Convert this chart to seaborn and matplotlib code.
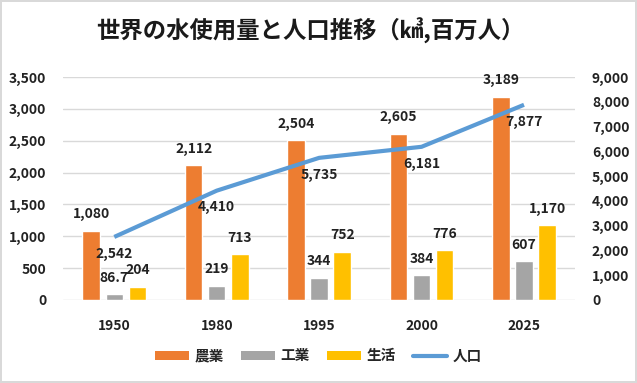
import numpy as np
import pandas as pd
import matplotlib
matplotlib.use("Agg")
import matplotlib.pyplot as plt
import seaborn as sns
from matplotlib.patches import Patch
from matplotlib.lines import Line2D

years = ["1950", "1980", "1995", "2000", "2025"]
agri = [1080, 2112, 2504, 2605, 3189]
indu = [86.7, 219, 344, 384, 607]
dome = [204, 713, 752, 776, 1170]
pop = [2542, 4410, 5735, 6181, 7877]
series_names = ["農業", "工業", "生活"]
pop_name = "人口"
title = "世界の水使用量と人口推移（㎦,百万人）"

colors = ["#ED7D31", "#A5A5A5", "#FFC000"]
line_color = "#5B9BD5"

sns.set_theme(style="white")
fam = ["Noto Sans CJK JP", "DejaVu Sans"]
plt.rcParams["font.family"] = fam

df = pd.DataFrame({
    "year": years * 3,
    "kind": [series_names[0]] * 5 + [series_names[1]] * 5 + [series_names[2]] * 5,
    "value": agri + indu + dome,
})

fig = plt.figure(figsize=(6.37, 3.83), dpi=100)
fig.patch.set_facecolor("white")
fig.patch.set_edgecolor("#D9D9D9")
fig.patch.set_linewidth(1.5)
ax = fig.add_axes([0.099, 0.217, 0.804, 0.582])

sns.barplot(data=df, x="year", y="value", hue="kind", palette=colors,
            width=0.675, gap=0.24, ax=ax, legend=False, errorbar=None,
            saturation=1)

ax.set_ylim(0, 3500)
ax.set_yticks(np.arange(0, 3501, 500))
ax.set_yticklabels([f"{v:,}" for v in range(0, 3501, 500)])
ax.set_xlim(-0.5, 4.5)
ax.set_xlabel("")
ax.set_ylabel("")
ax.yaxis.grid(True, color="#D9D9D9", linewidth=1)
ax.set_axisbelow(True)
for s in ax.spines.values():
    s.set_visible(False)
ax.tick_params(axis="both", length=0, labelsize=10)
ax.tick_params(axis="y", pad=12)
ax.tick_params(axis="x", pad=14)
for t in ax.get_xticklabels() + ax.get_yticklabels():
    t.set_fontweight("bold")
    t.set_color("#222222")

for cont in ax.containers:
    labels = []
    for bar in cont:
        h = bar.get_height()
        labels.append(f"{h:,.1f}" if h != int(h) else f"{int(h):,}")
    ax.bar_label(cont, labels=labels, padding=7, fontsize=10,
                 fontweight="bold", color="#222222")

ax2 = ax.twinx()
xpos = np.arange(len(years))
sns.lineplot(x=xpos, y=pop, ax=ax2, color=line_color, linewidth=3,
             solid_capstyle="butt")
ax2.set_ylim(0, 9000)
ax2.set_yticks(np.arange(0, 9001, 1000))
ax2.set_yticklabels([f"{v:,}" for v in range(0, 9001, 1000)])
ax2.set_ylabel("")
for s in ax2.spines.values():
    s.set_visible(False)
ax2.tick_params(axis="y", length=0, labelsize=10, pad=12)
for t in ax2.get_yticklabels():
    t.set_fontweight("bold")
    t.set_color("#222222")
ax2.set_xlim(-0.5, 4.5)
for x, v in zip(xpos, pop):
    ax2.annotate(f"{v:,}", (x, v), xytext=(0, -7), textcoords="offset points",
                 ha="center", va="top", fontsize=10, fontweight="bold",
                 color="#222222")

fig.text(0.487, 0.918, title, ha="center", va="center", fontsize=16.8,
         fontweight="bold", color="#1a1a1a")

handles = [Patch(facecolor=c, edgecolor="none") for c in colors]
handles.append(Line2D([0], [0], color=line_color, linewidth=3))
fig.legend(handles, series_names + [pop_name], loc="center",
           bbox_to_anchor=(0.5, 0.072), ncol=4, frameon=False, fontsize=10.5,
           handlelength=2.3, handleheight=0.6, columnspacing=1.2,
           handletextpad=0.4, prop={"weight": "bold", "size": 10.5})

fig.savefig("out.png", dpi=100, facecolor=fig.get_facecolor(),
            edgecolor=fig.get_edgecolor())
